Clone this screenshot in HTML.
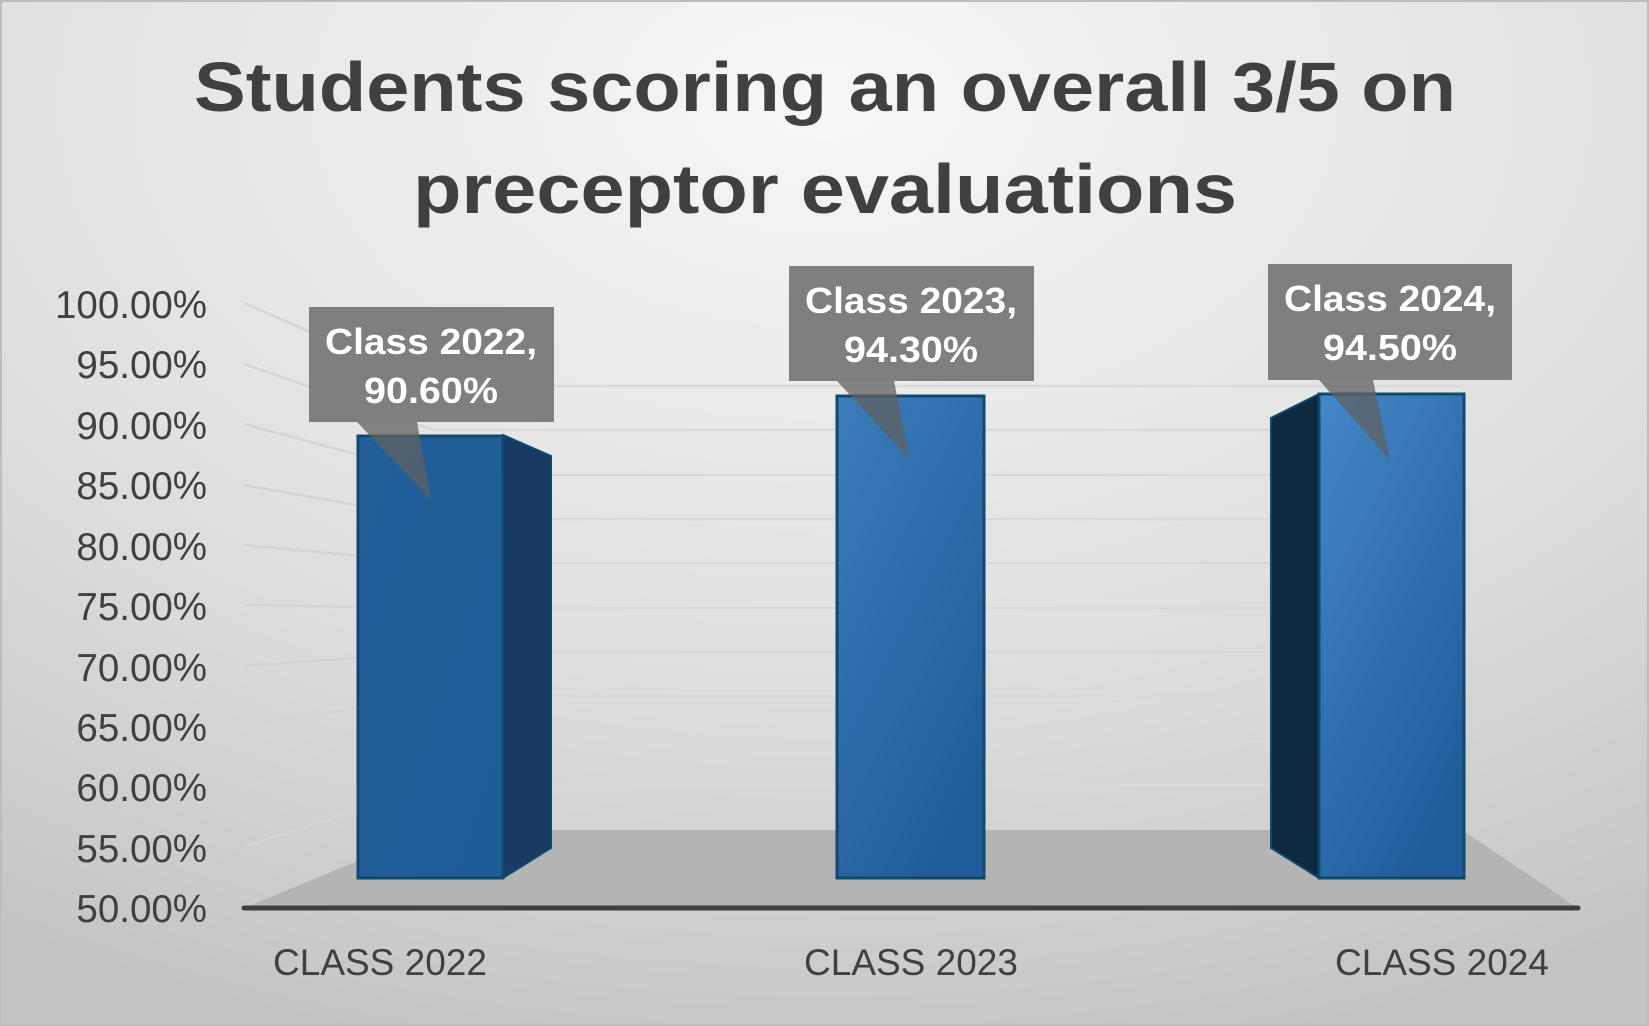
<!DOCTYPE html>
<html><head><meta charset="utf-8"><style>
html,body{margin:0;padding:0;width:1649px;height:1026px;overflow:hidden;}
svg{display:block;font-family:"Liberation Sans",sans-serif;}
</style></head><body>
<svg width="1649" height="1026" viewBox="0 0 1649 1026" xmlns="http://www.w3.org/2000/svg">
<defs>
<radialGradient id="bg" cx="0.5" cy="0.1" r="0.95">
<stop offset="0" stop-color="#f7f7f7"/><stop offset="0.6" stop-color="#dedede"/><stop offset="1" stop-color="#c4c4c4"/>
</radialGradient>
<linearGradient id="b1" x1="0" y1="0" x2="1" y2="1"><stop offset="0" stop-color="#225f99"/><stop offset="1" stop-color="#1e5c98"/></linearGradient>
<linearGradient id="b2" x1="0" y1="0" x2="0.6" y2="1"><stop offset="0" stop-color="#3b7cba"/><stop offset="1" stop-color="#215d9b"/></linearGradient>
<linearGradient id="b3" x1="0" y1="0" x2="0.6" y2="1"><stop offset="0" stop-color="#4487c6"/><stop offset="1" stop-color="#215d9b"/></linearGradient>
</defs>
<rect x="0" y="0" width="1649" height="1026" fill="url(#bg)"/>
<rect x="1" y="1" width="1647" height="1024" fill="none" stroke="#bdbdbd" stroke-width="2"/>

<polygon points="244,908 433,830 1462,830 1578,908" fill="#b4b4b4"/>
<g stroke="#d9d9d9" stroke-width="2.5">
<line x1="433" y1="386" x2="1462" y2="386"/>
<line x1="433" y1="430" x2="1462" y2="430"/>
<line x1="433" y1="475" x2="1462" y2="475"/>
<line x1="433" y1="519" x2="1462" y2="519"/>
<line x1="433" y1="563" x2="1462" y2="563"/>
<line x1="433" y1="608" x2="1462" y2="608"/>
<line x1="433" y1="652" x2="1462" y2="652"/>
<line x1="433" y1="696" x2="1462" y2="696"/>
<line x1="433" y1="741" x2="1462" y2="741"/>
<line x1="433" y1="785" x2="1462" y2="785"/>
</g>
<g stroke="#d4d4d4" stroke-width="2.5">
<line x1="244" y1="303" x2="433" y2="386"/>
<line x1="244" y1="364" x2="433" y2="430"/>
<line x1="244" y1="424" x2="433" y2="475"/>
<line x1="244" y1="485" x2="433" y2="519"/>
<line x1="244" y1="545" x2="433" y2="563"/>
<line x1="244" y1="605" x2="433" y2="608"/>
<line x1="244" y1="666" x2="433" y2="652"/>
<line x1="244" y1="726" x2="433" y2="696"/>
<line x1="244" y1="787" x2="433" y2="741"/>
<line x1="244" y1="847" x2="433" y2="785"/>
</g>
<line x1="244" y1="908" x2="1578" y2="908" stroke="#3f3f3f" stroke-width="5" stroke-linecap="round"/>

<g fill="#404040" font-size="38.5" text-anchor="end">
<text x="207" y="318">100.00%</text>
<text x="207" y="378">95.00%</text>
<text x="207" y="439">90.00%</text>
<text x="207" y="499">85.00%</text>
<text x="207" y="560">80.00%</text>
<text x="207" y="620">75.00%</text>
<text x="207" y="681">70.00%</text>
<text x="207" y="741">65.00%</text>
<text x="207" y="801">60.00%</text>
<text x="207" y="862">55.00%</text>
<text x="207" y="922">50.00%</text>
</g>

<g fill="#404040" font-size="37" text-anchor="middle">
<text x="380" y="975">CLASS 2022</text>
<text x="911" y="975">CLASS 2023</text>
<text x="1442" y="975">CLASS 2024</text>
</g>

<polygon points="503,435 551,456 551,848 503,878" fill="#163a60" stroke="#0e4a6e" stroke-width="2"/>
<rect x="358" y="436" width="145" height="442" fill="url(#b1)" stroke="#0e4a6e" stroke-width="3"/>
<rect x="837" y="396" width="147" height="482" fill="url(#b2)" stroke="#0e4a6e" stroke-width="3"/>
<polygon points="1319,394 1271,418 1271,848 1319,878" fill="#0d283f" stroke="#0e4a6e" stroke-width="2"/>
<rect x="1319" y="394" width="145" height="484" fill="url(#b3)" stroke="#0e4a6e" stroke-width="3"/>

<g fill="#606060" fill-opacity="0.75">
<polygon points="357,422 417,422 431,500"/>
<polygon points="837,381 894,381 910,460"/>
<polygon points="1319,380 1373,380 1390,460"/>
</g>
<g fill="#7f7f7f">
<rect x="309" y="307" width="245" height="115"/>
<rect x="789" y="266" width="245" height="115"/>
<rect x="1268" y="264" width="244" height="116"/>
</g>
<g fill="#ffffff" font-size="36" font-weight="bold" text-anchor="middle">
<text x="431" y="354" textLength="212" lengthAdjust="spacingAndGlyphs">Class 2022,</text>
<text x="431" y="403" textLength="134" lengthAdjust="spacingAndGlyphs">90.60%</text>
<text x="911" y="313" textLength="212" lengthAdjust="spacingAndGlyphs">Class 2023,</text>
<text x="911" y="362" textLength="134" lengthAdjust="spacingAndGlyphs">94.30%</text>
<text x="1390" y="311" textLength="212" lengthAdjust="spacingAndGlyphs">Class 2024,</text>
<text x="1390" y="360" textLength="134" lengthAdjust="spacingAndGlyphs">94.50%</text>
</g>

<g fill="#404040" font-size="70" font-weight="bold" text-anchor="middle">
<text x="825" y="111" textLength="1262" lengthAdjust="spacingAndGlyphs">Students scoring an overall 3/5 on</text>
<text x="825" y="213" textLength="824" lengthAdjust="spacingAndGlyphs">preceptor evaluations</text>
</g>
</svg>
</body></html>
